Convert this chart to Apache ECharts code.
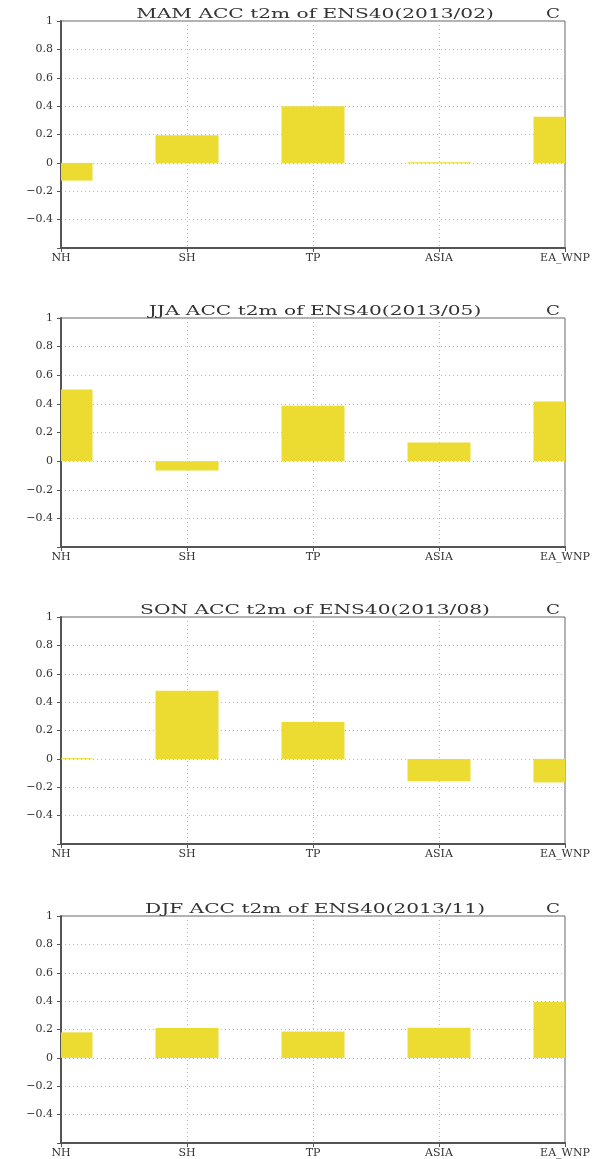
<!DOCTYPE html>
<html>
<head>
<meta charset="utf-8">
<script src="https://cdn.jsdelivr.net/npm/echarts@6/dist/echarts.min.js"></script>
<style>
html,body{margin:0;padding:0;background:#fff;}
#chart{width:613px;height:1159px;}
</style>
</head>
<body>
<div id="chart"></div>
<script>
const categories = ['NH', 'SH', 'TP', 'ASIA', 'EA_WNP'];
const mamValues = [-0.125, 0.195, 0.40, 0.005, 0.325];
const jjaValues = [0.50, -0.065, 0.387, 0.13, 0.417];
const sonValues = [0.005, 0.48, 0.26, -0.157, -0.166];
const djfValues = [0.18, 0.21, 0.186, 0.212, 0.393];
const panelTitles = [
  'MAM ACC t2m of ENS40(2013/02)',
  'JJA ACC t2m of ENS40(2013/05)',
  'SON ACC t2m of ENS40(2013/08)',
  'DJF ACC t2m of ENS40(2013/11)'
];
const unitLabel = 'C';
const yMin = -0.6, yMax = 1, yStep = 0.2;

const seriesValues = [mamValues, jjaValues, sonValues, djfValues];
const tops = [21, 318, 617, 916];
const heights = [227, 229, 227, 227];
const gridLeft = 61, gridWidth = 504;
const font = 'DejaVu Serif';
const barColor = '#ecdb30';
const gridLineStyle = { type: [1, 3], color: '#b8b8b8', width: 1 };

function renderBar(params, api) {
  const cat = api.value(0);
  const val = api.value(1);
  const base = api.coord([cat, 0]);
  const tip = api.coord([cat, val]);
  const w = api.size([1, 0])[0] * 0.5;
  const y = Math.min(base[1], tip[1]);
  const h = Math.max(Math.abs(base[1] - tip[1]), 1);
  const rect = echarts.graphic.clipRectByRect(
    { x: base[0] - w / 2, y: y, width: w, height: h },
    { x: params.coordSys.x, y: params.coordSys.y, width: params.coordSys.width, height: params.coordSys.height }
  );
  return rect && { type: 'rect', shape: rect, style: { fill: barColor } };
}

const grids = [], xAxes = [], yAxes = [], series = [], graphics = [];
seriesValues.forEach((vals, i) => {
  grids.push({
    left: gridLeft, top: tops[i], width: gridWidth, height: heights[i],
    show: true, borderColor: '#666', borderWidth: 1, backgroundColor: 'transparent'
  });
  xAxes.push({
    type: 'category', gridIndex: i, data: categories, boundaryGap: false,
    axisLine: { show: true, onZero: false, lineStyle: { color: '#555', width: 2 } },
    axisTick: { show: true, length: 4, lineStyle: { color: '#555', width: 1 } },
    axisLabel: { interval: 0, margin: 5, fontFamily: font, fontSize: 11, color: '#333' },
    splitLine: { show: true, interval: 0, lineStyle: gridLineStyle }
  });
  yAxes.push({
    type: 'value', gridIndex: i, min: yMin, max: yMax, interval: yStep,
    axisLine: { show: true, lineStyle: { color: '#555', width: 2 } },
    axisTick: { show: true, length: 4, lineStyle: { color: '#555', width: 1 } },
    axisLabel: {
      margin: 8, fontFamily: font, fontSize: 11, color: '#333',
      formatter: v => {
        if (Math.abs(v - yMin) < 1e-6) return '';
        let s = (Math.round(v * 10) / 10).toString();
        return s.replace('-', '\u2212');
      }
    },
    splitLine: { show: true, lineStyle: gridLineStyle }
  });
  series.push({
    type: 'custom', xAxisIndex: i, yAxisIndex: i,
    data: vals.map((v, k) => [k, v]),
    encode: { x: 0, y: 1 },
    renderItem: renderBar, animation: false, z: 1
  });
  graphics.push({
    type: 'text', x: 315, y: tops[i] - 6, scaleX: 1.55,
    style: { text: panelTitles[i], font: '13px "DejaVu Serif"', fill: '#333', align: 'center', verticalAlign: 'middle' }
  });
  graphics.push({
    type: 'text', x: 553, y: tops[i] - 6, scaleX: 1.4,
    style: { text: unitLabel, font: '13px "DejaVu Serif"', fill: '#333', align: 'center', verticalAlign: 'middle' }
  });
});

const chart = echarts.init(document.getElementById('chart'), null, { renderer: 'canvas' });
chart.setOption({
  animation: false,
  backgroundColor: '#fff',
  grid: grids,
  xAxis: xAxes,
  yAxis: yAxes,
  series: series,
  graphic: graphics
});
</script>
</body>
</html>
